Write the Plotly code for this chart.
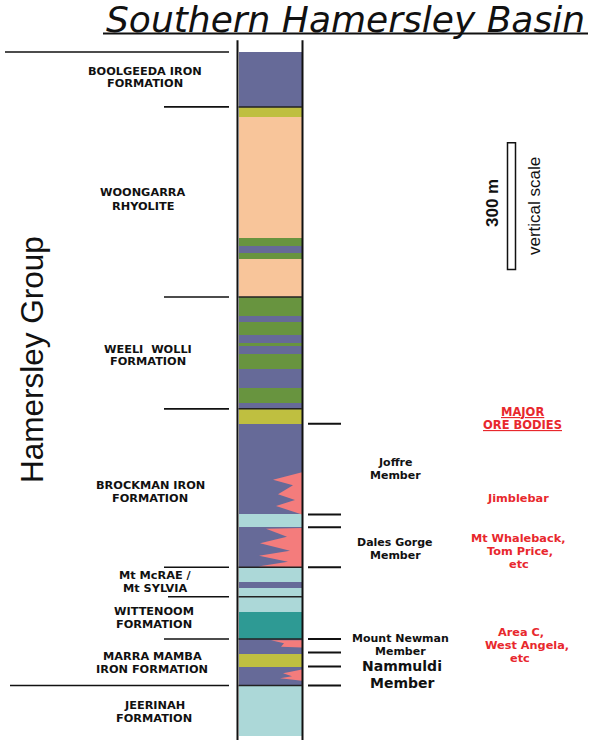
import plotly.graph_objects as go

# ---------------- data (stratigraphic column, depth in metres below top of Boolgeeda) ----------
M_PER_PX = 300 / 126.7          # from the 300 m vertical scale bar
LAYER_TOP = [0, 130, 155, 440, 460, 475, 490, 580, 625, 640, 670, 690, 695, 715, 750, 795,
             830, 845, 880, 1095, 1125, 1220, 1255, 1270, 1290, 1325, 1390, 1425, 1455, 1500]
LAYER_BASE = LAYER_TOP[1:] + [1620]
LAYER_LITH = ["BIF", "shale", "rhyolite", "dolerite", "BIF", "dolerite", "rhyolite", "dolerite",
              "BIF", "dolerite", "BIF", "dolerite", "BIF", "dolerite", "BIF", "dolerite",
              "BIF", "shale", "BIF", "mudstone", "BIF", "mudstone", "BIF", "mudstone",
              "mudstone", "basalt", "BIF", "shale", "BIF", "mudstone"]
LITH_COLOR = {"BIF": "#666a98", "shale": "#bfbf40", "rhyolite": "#f8c59a",
              "dolerite": "#68943f", "mudstone": "#acd8d8", "basalt": "#2e9a94"}

FORMATION_TOP = [0, 130, 580, 845, 1220, 1290, 1390, 1500]
FORMATION_LABEL = [["BOOLGEEDA IRON", "FORMATION"], ["WOONGARRA", "RHYOLITE"],
                   ["WEELI  WOLLI", "FORMATION"], ["BROCKMAN IRON", "FORMATION"],
                   ["Mt McRAE /", "Mt SYLVIA"], ["WITTENOOM", "FORMATION"],
                   ["MARRA MAMBA", "IRON FORMATION"], ["JEERINAH", "FORMATION"]]
MEMBER_TICKS = [880, 1095, 1125, 1220, 1390, 1422, 1455, 1500]

# ore bodies (enriched zones) outlines: x in column units, y in metres
ORE_JOFFRE_X = [302, 273, 293, 278, 295, 276, 302]
ORE_JOFFRE_Y = [995, 1013, 1026, 1047, 1061, 1075, 1095]
ORE_DALES_X = [302, 266, 287, 260, 290, 259, 288, 258, 302]
ORE_DALES_Y = [1127, 1129, 1148, 1163, 1181, 1193, 1207, 1218, 1220]
ORE_MM_UP_X = [271, 302, 302, 281, 284]
ORE_MM_UP_Y = [1393, 1393, 1410, 1408, 1400]
ORE_MM_LO_X = [302, 283, 292, 280, 302]
ORE_MM_LO_Y = [1462, 1471, 1478, 1483, 1489]

SCALE_LEN_M = 300
SCALE_TOP_M = 215

W, H = 590, 742
COL_L, COL_R = 238.5, 302
TOP_PX = 52


def ypaper(px):
    return 1 - px / H


fig = go.Figure()

# column layers as bars with base = top depth
fig.add_trace(go.Bar(
    x=[(COL_L + COL_R) / 2] * len(LAYER_TOP),
    y=[b - t for t, b in zip(LAYER_TOP, LAYER_BASE)],
    base=LAYER_TOP,
    width=COL_R - COL_L,
    marker=dict(color=[LITH_COLOR[l] for l in LAYER_LITH], line=dict(width=0)),
    hoverinfo="skip", showlegend=False))

for xs, ys in [(ORE_JOFFRE_X, ORE_JOFFRE_Y), (ORE_DALES_X, ORE_DALES_Y),
               (ORE_MM_UP_X, ORE_MM_UP_Y), (ORE_MM_LO_X, ORE_MM_LO_Y)]:
    fig.add_trace(go.Scatter(x=xs, y=ys, fill="toself", fillcolor="#f47c7c",
                             mode="lines", line=dict(width=0), hoverinfo="skip",
                             showlegend=False))

shapes = []
# column outline
for xv in (237.5, 302.5):
    shapes.append(dict(type="line", xref="x", yref="y", x0=xv, x1=xv,
                       y0=-28, y1=1629, line=dict(color="#111", width=2)))
# formation boundaries
for i, d in enumerate(FORMATION_TOP):
    if i == 0:
        x0 = 5
    elif d == 1500:
        x0 = 10
    elif d == 1290:
        x0 = 168
    else:
        x0 = 164
    shapes.append(dict(type="line", xref="x", yref="y", x0=x0, x1=229, y0=d, y1=d,
                       line=dict(color="#111", width=1.6)))
    if i > 0:
        shapes.append(dict(type="line", xref="x", yref="y", x0=COL_L, x1=COL_R,
                           y0=d, y1=d, line=dict(color="#222", width=1.5)))
# member ticks on the right
for d in MEMBER_TICKS:
    shapes.append(dict(type="line", xref="x", yref="y", x0=308, x1=341, y0=d, y1=d,
                       line=dict(color="#111", width=2)))
# scale bar
shapes.append(dict(type="rect", xref="x", yref="y", x0=507.5, x1=515.5,
                   y0=SCALE_TOP_M, y1=SCALE_TOP_M + SCALE_LEN_M,
                   line=dict(color="#111", width=1.5), fillcolor="white"))
# title underline
shapes.append(dict(type="line", xref="x", yref="paper", x0=103, x1=588,
                   y0=ypaper(33.5), y1=ypaper(33.5), line=dict(color="#111", width=2)))

ann = []


def label(text, x, py, size=11, color="#111", bold=True, angle=0, family="DejaVu Sans",
          under=False, italic=False):
    f = dict(size=size, color=color, family=family)
    if bold:
        f["weight"] = "bold"
    if italic:
        f["style"] = "italic"
    if under:
        f["lineposition"] = "under"
    ann.append(dict(text=text, x=x, y=ypaper(py), xref="x", yref="paper",
                    xanchor="center", yanchor="middle", showarrow=False, borderpad=0,
                    textangle=angle, font=f))


label("Southern Hamersley Basin", 345, 19.5, size=36, bold=False, italic=True)
label("Hamersley Group", 32, 360, size=31.5, bold=False, angle=-90,
      family="Liberation Sans, Arial")

left_pos = [(145, 71), (143, 193), (148, 349), (150, 485), (155, 575.5), (154, 611.5),
            (152, 656), (154, 705.5)]
for (l1, l2), (x, py) in zip(FORMATION_LABEL, left_pos):
    label(l1, x, py, size=11.3)
    label(l2, x, py + 13, size=11.3)

label("Joffre", 395, 462.5)
label("Member", 395, 475.5)
label("Dales Gorge", 395, 542)
label("Member", 395, 555)
label("Mount Newman", 400, 638)
label("Member", 400, 651)
label("Nammuldi", 402, 666, size=14)
label("Member", 402, 682.5, size=14)

RED = "#e8282d"
label("MAJOR", 522, 412, size=11.5, color=RED, under=True)
label("ORE BODIES", 522, 425, size=11.5, color=RED, under=True)
label("Jimblebar", 518, 498, size=11.3, color=RED)
label("Mt Whaleback,", 518, 538.5, size=11.3, color=RED)
label("Tom Price,", 520, 551.5, size=11.3, color=RED)
label("etc", 519, 564.5, size=11.3, color=RED)
label("Area C,", 521, 632, size=11.3, color=RED)
label("West Angela,", 527, 645, size=11.3, color=RED)
label("etc", 520, 658, size=11.3, color=RED)

label("300 m", 492, 203, size=17, angle=-90, family="Liberation Sans, Arial")
label("vertical scale", 534, 206, size=17, bold=False, angle=-90,
      family="Liberation Sans, Arial")

fig.update_layout(
    width=W, height=H, margin=dict(l=0, r=0, t=0, b=0),
    paper_bgcolor="white", plot_bgcolor="white",
    barmode="overlay", bargap=0,
    xaxis=dict(range=[0, W], visible=False, fixedrange=True),
    yaxis=dict(range=[(H - TOP_PX) * M_PER_PX, -TOP_PX * M_PER_PX], visible=False,
               fixedrange=True),
    shapes=shapes, annotations=ann, showlegend=False)

fig.write_html("out.html")
